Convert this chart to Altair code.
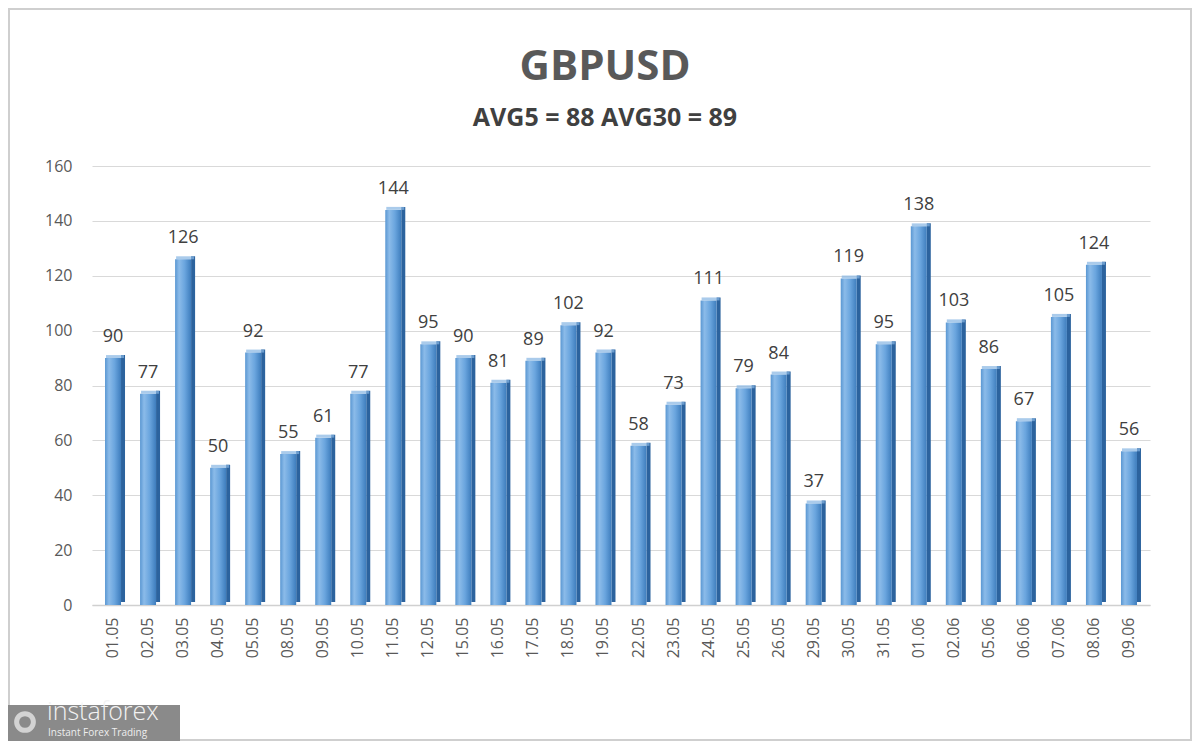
import altair as alt
import pandas as pd

dates = ["01.05", "02.05", "03.05", "04.05", "05.05", "08.05", "09.05", "10.05",
         "11.05", "12.05", "15.05", "16.05", "17.05", "18.05", "19.05", "22.05",
         "23.05", "24.05", "25.05", "26.05", "29.05", "30.05", "31.05", "01.06",
         "02.06", "05.06", "06.06", "07.06", "08.06", "09.06"]
values = [90, 77, 126, 50, 92, 55, 61, 77, 144, 95, 90, 81, 89, 102, 92, 58,
          73, 111, 79, 84, 37, 119, 95, 138, 103, 86, 67, 105, 124, 56]
y_ticks = [0, 20, 40, 60, 80, 100, 120, 140, 160]

df = pd.DataFrame({"date": dates, "value": values})

FONT = "Open Sans"

x_enc = alt.X("date:N", sort=None,
              scale=alt.Scale(paddingInner=0, paddingOuter=0.1),
              axis=alt.Axis(title=None, labelAngle=270, labelFontSize=16,
                            labelColor="#595959", labelFont=FONT, labelPadding=12,
                            ticks=False, domainColor="#d0d0d0", domainWidth=1.5))
y_enc = alt.Y("value:Q",
              scale=alt.Scale(domain=[0, 160], nice=False),
              axis=alt.Axis(title=None, values=y_ticks, labelFontSize=16,
                            labelColor="#595959", labelFont=FONT, labelPadding=20,
                            ticks=False, domain=False, gridColor="#d9d9d9",
                            gridWidth=1.2))

base = alt.Chart(df).encode(x=x_enc, y=y_enc)

side = base.mark_bar(width=4, xOffset=10, yOffset=-3, color="#2c639e")
front = base.mark_bar(
    width=16,
    color=alt.Gradient(
        gradient="linear", x1=0, x2=1, y1=0, y2=0,
        stops=[alt.GradientStop(color="#5a97d2", offset=0),
               alt.GradientStop(color="#8bbbe9", offset=0.25),
               alt.GradientStop(color="#6aa5de", offset=0.6),
               alt.GradientStop(color="#3e7dbd", offset=1)]))
cap = base.mark_tick(thickness=3, size=18, xOffset=2, yOffset=-1.5,
                     color="#86b5e3", orient="horizontal")
labels = base.mark_text(baseline="bottom", dy=-12, fontSize=18,
                        color="#404040", font=FONT).encode(text="value:Q")

wm = pd.DataFrame({"a": [1]})
wm_rect = alt.Chart(wm).mark_rect(color="#8a8a8a").encode(
    x=alt.value(-84), x2=alt.value(88), y=alt.value(539), y2=alt.value(575))
wm_text1 = alt.Chart(wm).mark_text(
    text="instaforex", align="left", baseline="alphabetic", fontSize=25,
    color="#f2f2f2", font=FONT, fontWeight=300).encode(
    x=alt.value(-45), y=alt.value(554))
wm_text2 = alt.Chart(wm).mark_text(
    text="Instant Forex Trading", align="left", baseline="alphabetic",
    fontSize=10, color="#eeeeee", font=FONT).encode(
    x=alt.value(-44), y=alt.value(570))
wm_icon = alt.Chart(wm).mark_point(
    shape="circle", size=280, filled=False, strokeWidth=5, color="#f2f2f2").encode(
    x=alt.value(-67), y=alt.value(556))

frame = alt.Chart(wm).mark_rect(fill="transparent", stroke="#cfcfcf", strokeWidth=2).encode(
    x=alt.value(-83), x2=alt.value(1099), y=alt.value(-157), y2=alt.value(574))

chart = alt.layer(frame, side, front, cap, labels, wm_rect, wm_text1, wm_text2, wm_icon).properties(
    width=1058, height=439,
    padding={"left": 84, "top": 158, "right": 42, "bottom": 136},
    autosize="none",
    background="white",
    title=alt.TitleParams(
        "GBPUSD", subtitle="AVG5 = 88 AVG30 = 89",
        font=FONT, fontSize=42, fontWeight="bold", color="#595959",
        subtitleFont=FONT, subtitleFontSize=25, subtitleFontWeight="bold",
        subtitleColor="#404040", subtitlePadding=17,
        anchor="middle", frame="group", dx=-16, offset=-124)
).configure_view(stroke=None)

chart.save("out.html", embed_options={"renderer": "svg", "actions": False})
